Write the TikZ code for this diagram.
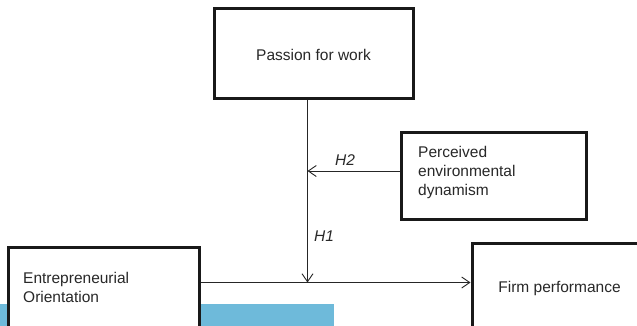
\documentclass[tikz,border=0pt]{standalone}
\usepackage{fontspec}
\setmainfont{Liberation Sans}
\usetikzlibrary{arrows.meta}
\definecolor{barblue}{RGB}{110,186,218}
\definecolor{txt}{RGB}{40,40,40}
\tikzset{
  box/.style={draw=black!90, line width=3pt, fill=white, rectangle, inner sep=0pt},
  conn/.style={draw=black!85, line width=0.9pt, -{Straight Barb[length=8pt,width=11pt,line width=0.9pt]}},
  lbl/.style={font=\fontsize{15.5}{19}\selectfont, text=txt, inner sep=0pt},
  hlbl/.style={font=\fontsize{15.5}{19}\selectfont\itshape, text=txt, inner sep=0pt}
}
\begin{document}
\begin{tikzpicture}[x=1pt,y=-1pt]
\useasboundingbox (0,0) rectangle (637,325);
\clip (0,0) rectangle (637,325);
% blue bar
\fill[barblue] (0,304) rectangle (334,330);
% boxes
\node[box, minimum width=199pt, minimum height=90pt] (passion) at (313.5,53) {};
\node[lbl] (passiont) at (313.5,54.5) {Passion for work};
\node[box, minimum width=185pt, minimum height=87pt] (perc) at (493.5,175.5) {};
\node[lbl, anchor=west, align=left] (perct) at (418,172.5) {Perceived\\environmental\\dynamism};
\node[box, minimum width=191pt, minimum height=90pt] (eo) at (104,292) {};
\node[lbl, anchor=west, align=left] (eot) at (23,287) {Entrepreneurial\\Orientation};
\node[box, minimum width=175pt, minimum height=90pt] (firm) at (559.5,288) {};
\node[lbl] (firmt) at (559.5,288) {Firm performance};
% connectors
\coordinate (m) at (307.5,282.5);
\coordinate (h2) at (307.5,171);
\draw[conn] (passion.south -| m) -- (m);
\draw[conn] (eo.east |- m) -- (firm.west |- m);
\draw[conn] (perc.west |- h2) -- (h2);
\node[hlbl] (H2) at (345,160) {H2};
\node[hlbl] (H1) at (324,236) {H1};
\end{tikzpicture}
\end{document}
